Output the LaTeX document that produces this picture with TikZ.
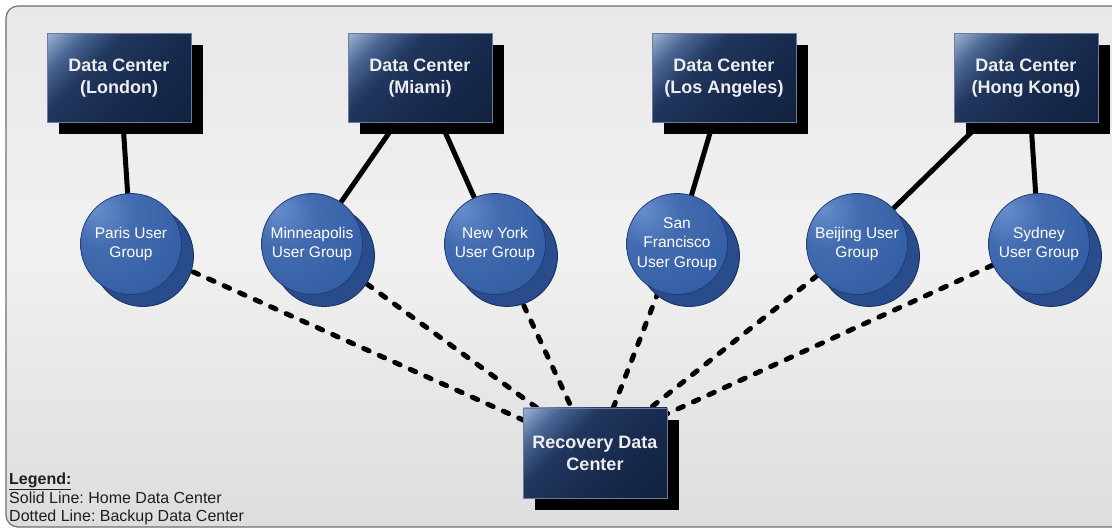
\documentclass[tikz,border=0pt]{standalone}
\usepackage{fontspec}
\setmainfont{Liberation Sans}
\usetikzlibrary{calc,shadows}
\frenchspacing

% palette
\definecolor{bgA}{HTML}{C5C5C5}
\definecolor{bgB}{HTML}{DDDDDD}
\definecolor{bgC}{HTML}{F1F1F1}
\definecolor{bgD}{HTML}{E6E6E6}
\definecolor{bgE}{HTML}{D4D4D4}
\definecolor{frame}{HTML}{6E6E6E}
\definecolor{bxA}{HTML}{0D1B36}
\definecolor{bxB}{HTML}{182B4E}
\definecolor{bxC}{HTML}{21375E}
\definecolor{bxD}{HTML}{4A6694}
\definecolor{bxE}{HTML}{B0C2E2}
\definecolor{bxEdge}{HTML}{6B7C9C}
\definecolor{boxtext}{HTML}{EDEDED}
\definecolor{ugA}{HTML}{6890CE}
\definecolor{ugB}{HTML}{436BB0}
\definecolor{ugC}{HTML}{3660A6}
\definecolor{ugEdge}{HTML}{1F3C74}
\definecolor{ugShadow}{HTML}{284C8C}
\definecolor{ugShadowEdge}{HTML}{152D5A}
\definecolor{legtext}{HTML}{1E1E1E}

% shadings
\pgfdeclareverticalshading{bgshade}{100bp}{color(0bp)=(bgA); color(25bp)=(bgB); color(52bp)=(bgC); color(80bp)=(bgD); color(100bp)=(bgE)}
\pgfdeclareverticalshading{boxshade}{100bp}{color(0bp)=(bxA); color(42bp)=(bxB); color(62bp)=(bxC); color(74bp)=(bxD); color(88bp)=(bxE); color(100bp)=(bxE)}
\pgfdeclareradialshading{ugshade}{\pgfpoint{-18bp}{18bp}}{color(0bp)=(ugA); color(16bp)=(ugB); color(36bp)=(ugC); color(80bp)=(ugC)}

\pgfdeclarelayer{bg}
\pgfdeclarelayer{links}
\pgfsetlayers{bg,links,main}

\tikzset{
  dcbox/.style={rectangle, minimum width=144pt, minimum height=89pt, inner sep=0pt,
    shade, shading=boxshade, shading angle=45, draw=bxEdge, line width=0.8pt,
    text=boxtext, font=\bfseries\fontsize{18}{22}\selectfont, align=center,
    copy shadow={fill=black, draw=none, shadow xshift=12pt, shadow yshift=-12pt}},
  usergroup/.style={circle, minimum size=101pt, inner sep=0pt,
    shade, shading=ugshade, draw=ugEdge, line width=0.8pt,
    text=white, font=\fontsize{15.5}{19.5}\selectfont, align=center,
    copy shadow={fill=ugShadow, draw=ugShadowEdge, line width=0.8pt, shadow xshift=12pt, shadow yshift=-12pt}},
  homelink/.style={line width=5pt, black},
  backuplink/.style={line width=5pt, black, line cap=round, dash pattern=on 6pt off 11pt},
}

\begin{document}
\begin{tikzpicture}[x=1pt, y=-1pt]
  \useasboundingbox (0,0) rectangle (1112,529);

  \begin{pgfonlayer}{bg}
    \draw[draw=frame, line width=1.2pt, rounded corners=12pt, shading=bgshade]
      (6,6) rectangle (1135,527);
  \end{pgfonlayer}

  % data centers
  \node[dcbox] (lon) at (119,78)  {Data Center\\(London)};
  \node[dcbox] (mia) at (420,78)  {Data Center\\(Miami)};
  \node[dcbox] (la)  at (724,78)  {Data Center\\(Los Angeles)};
  \node[dcbox] (hk)  at (1026,78) {Data Center\\(Hong Kong)};
  \node[dcbox, minimum height=90pt] (rec) at (595,453) {Recovery Data\\Center};

  % user groups
  \node[usergroup] (par) at (131,244)  {Paris User\\Group};
  \node[usergroup] (min) at (312,244)  {Minneapolis\\User Group};
  \node[usergroup] (ny)  at (495,244)  {New York\\User Group};
  \node[usergroup] (sf)  at (677,244)  {San\\Francisco\\User Group};
  \node[usergroup] (bei) at (857,244)  {Beijing User\\Group};
  \node[usergroup] (syd) at (1039,244) {Sydney\\User Group};

  % legend
  \node[anchor=north west, align=left, inner sep=0pt, text=legtext,
        font=\fontsize{16}{18.5}\selectfont] (legend) at (9,473)
    {\underline{\textbf{Legend:}}\\Solid Line: Home Data Center\\Dotted Line: Backup Data Center};

  \begin{pgfonlayer}{links}
    % home data center links
    \draw[homelink] ($(lon.south)+(4,0)$)   -- (par.center);
    \draw[homelink] ($(mia.south)+(-24,0)$) -- (min.center);
    \draw[homelink] ($(mia.south)+(21,0)$)  -- (ny.center);
    \draw[homelink] ($(la.south)+(-11,0)$)  -- (sf.center);
    \draw[homelink] ($(hk.south)+(-45,0)$)  -- (bei.center);
    \draw[homelink] ($(hk.south)+(5,0)$)    -- (syd.center);
    % backup data center links
    \draw[backuplink] (par.center) -- ($(rec.center)+(-63,-29)$);
    \draw[backuplink] (min.center) -- ($(rec.center)+(-51,-40)$);
    \draw[backuplink] (ny.center)  -- ($(rec.center)+(-20,-38)$);
    \draw[backuplink] (sf.center)  -- ($(rec.center)+(15,-37)$);
    \draw[backuplink] (bei.center) -- ($(rec.center)+(49,-40)$);
    \draw[backuplink] (syd.center) -- ($(rec.center)+(63,-35)$);
  \end{pgfonlayer}
\end{tikzpicture}
\end{document}
